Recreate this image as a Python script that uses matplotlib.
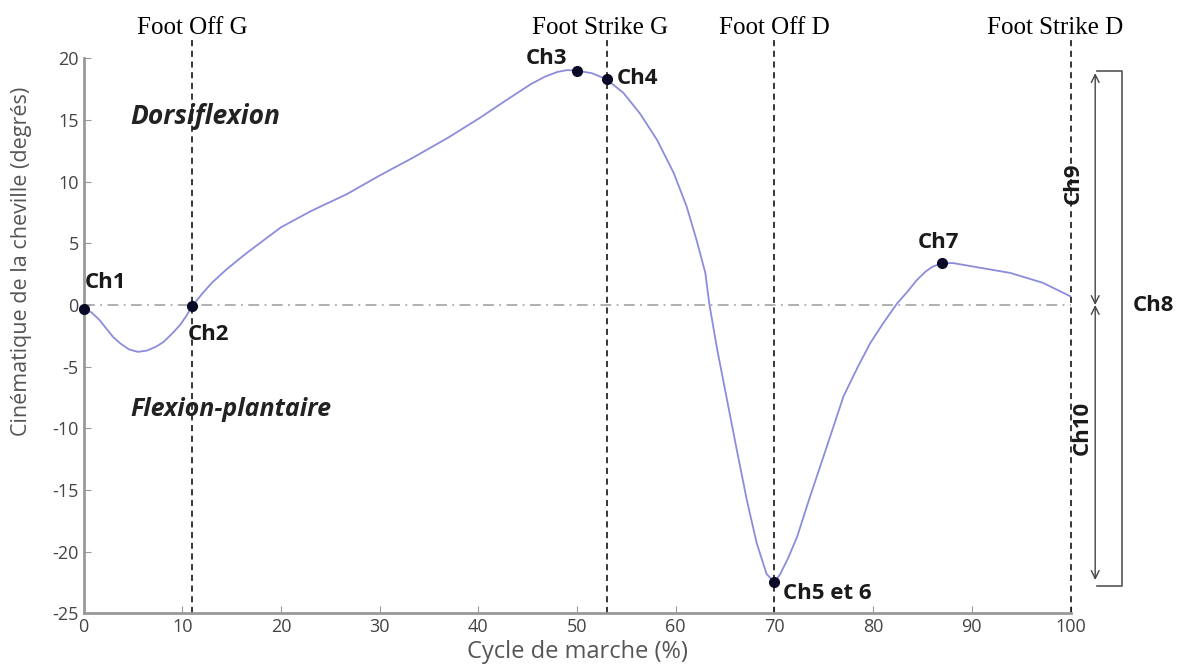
import matplotlib
matplotlib.use("Agg")
import matplotlib.pyplot as plt
from matplotlib import font_manager

plt.rcParams["axes.unicode_minus"] = False

# gait cycle (%) and ankle angle (degrees)
cycle = [0, 0.8, 1.6, 2.3, 3.0, 3.7, 4.6, 5.5, 6.4, 7.3, 8.1, 9.0, 9.8, 10.4, 11,
         12, 13, 14.5, 16.5, 18, 20, 23, 26.7, 30, 33.5, 37, 40.2, 43, 45.3, 46.7,
         48, 49, 50, 51.5, 53, 54.7, 56.4, 58.1, 59.8, 61.1, 62.1, 63.0, 63.4,
         64.2, 65.2, 66.2, 67.2, 68.2, 69.2, 70, 70.6, 71.4, 72.3, 73.5, 75.3, 77,
         78.4, 79.7, 81, 82.4, 83.5, 84.4, 85.3, 86, 87, 88.1, 91, 93.9, 97.2, 100]
angle = [-0.3, -0.6, -1.2, -1.9, -2.6, -3.1, -3.6, -3.8, -3.7, -3.4, -3.0, -2.3,
         -1.6, -0.9, -0.1, 0.9, 1.8, 2.9, 4.2, 5.1, 6.3, 7.6, 9.0, 10.5, 12.0, 13.6,
         15.2, 16.7, 17.9, 18.5, 18.9, 19.05, 19.0, 18.8, 18.3, 17.2, 15.5, 13.4,
         10.7, 8.0, 5.3, 2.6, 0.1, -3.6, -7.7, -11.8, -15.8, -19.3, -21.8, -22.5,
         -21.8, -20.5, -18.8, -15.8, -11.5, -7.4, -5.1, -3.1, -1.5, 0.1, 1.1, 2.0,
         2.7, 3.1, 3.4, 3.4, 3.0, 2.6, 1.8, 0.7]

# key points Ch1..Ch7
key_x = [0, 11, 50, 53, 70, 87]
key_y = [-0.3, -0.1, 19.0, 18.3, -22.5, 3.4]

events = [11, 53, 70, 100]
event_labels = ["Foot Off G", "Foot Strike G", "Foot Off D", "Foot Strike D"]
event_label_x = [11, 52.3, 70, 98.4]

ch9_top = 18.8
ch10_bottom = -22.3

# narrow font for the y label if present
names = {f.name for f in font_manager.fontManager.ttflist}
narrow = "Liberation Sans Narrow" if "Liberation Sans Narrow" in names else "Open Sans"

fig = plt.figure(figsize=(11.9, 6.71), dpi=100)
ax = fig.add_axes([0.0702, 0.0860, 0.8294, 0.8270])

ax.plot([0, 100], [0, 0], color="#aaaaaa", lw=1.3, ls="-.", dashes=(6, 3, 1, 3))
ax.plot(cycle, angle, color="#8c8cdc", lw=1.3)
ax.plot(key_x, key_y, "o", color="#0a0a28", ms=7, clip_on=False, zorder=5)

for xe in events:
    ax.plot([xe, xe], [-25, 21.5], color="black", lw=1.1, ls=(0, (4, 3)),
            clip_on=False)
for xl, lab in zip(event_label_x, event_labels):
    ax.text(xl, 22.5, lab, ha="center", va="center", fontsize=18,
            family="Liberation Serif", clip_on=False)

lab_font = dict(fontsize=16, fontweight="bold", family="Open Sans",
                color="#1a1a1a", clip_on=False)
ax.text(0.1, 1.8, "Ch1", ha="left", va="center", **lab_font)
ax.text(10.6, -2.4, "Ch2", ha="left", va="center", **lab_font)
ax.text(49.0, 20.0, "Ch3", ha="right", va="center", **lab_font)
ax.text(54.0, 18.4, "Ch4", ha="left", va="center", **lab_font)
ax.text(70.9, -23.4, "Ch5 et 6", ha="left", va="center", **lab_font)
ax.text(86.6, 5.1, "Ch7", ha="center", va="center", **lab_font)
ax.text(106.3, 0, "Ch8", ha="left", va="center", **lab_font)
ax.text(100.3, 9.9, "Ch9", ha="center", va="center", rotation=90, **lab_font)
ax.text(101.2, -10.0, "Ch10", ha="center", va="center", rotation=90, **lab_font)

ax.text(4.7, 15.3, "Dorsiflexion", ha="left", va="center", fontsize=19,
        fontweight="bold", style="italic", family="Open Sans", color="#222222")
ax.text(4.7, -8.5, "Flexion-plantaire", ha="left", va="center", fontsize=18,
        fontweight="bold", style="italic", family="Open Sans", color="#222222")

# range arrows and bracket on the right
arrow_kw = dict(arrowstyle="<->", color="#444444", lw=1.0, mutation_scale=14,
                shrinkA=0, shrinkB=0)
ax.annotate("", xy=(102.5, ch9_top), xytext=(102.5, 0),
            arrowprops=arrow_kw, annotation_clip=False)
ax.annotate("", xy=(102.5, ch10_bottom), xytext=(102.5, 0),
            arrowprops=arrow_kw, annotation_clip=False)
ax.plot([102.7, 105.2, 105.2, 102.7], [19.0, 19.0, -22.8, -22.8],
        color="#555555", lw=1.2, clip_on=False)

ax.set_xlim(0, 100)
ax.set_ylim(-25, 20)
ax.set_xticks(range(0, 101, 10))
ax.set_yticks(range(-25, 21, 5))
for side in ["top", "right"]:
    ax.spines[side].set_visible(False)
for side in ["left", "bottom"]:
    ax.spines[side].set_color("#999999")
    ax.spines[side].set_linewidth(2)
ax.tick_params(direction="in", length=5, color="#999999", labelcolor="#444444",
               labelsize=13)
for t in ax.get_xticklabels() + ax.get_yticklabels():
    t.set_family("Open Sans")

ax.set_xlabel("Cycle de marche (%)", fontsize=17, color="#555555",
              family="Open Sans", labelpad=3)
ax.set_ylabel("Cinématique de la cheville (degrés)", fontsize=15.5,
              color="#555555", family=narrow)
ax.yaxis.set_label_coords(-0.052, 0.635)

fig.savefig("out.png", dpi=100)
